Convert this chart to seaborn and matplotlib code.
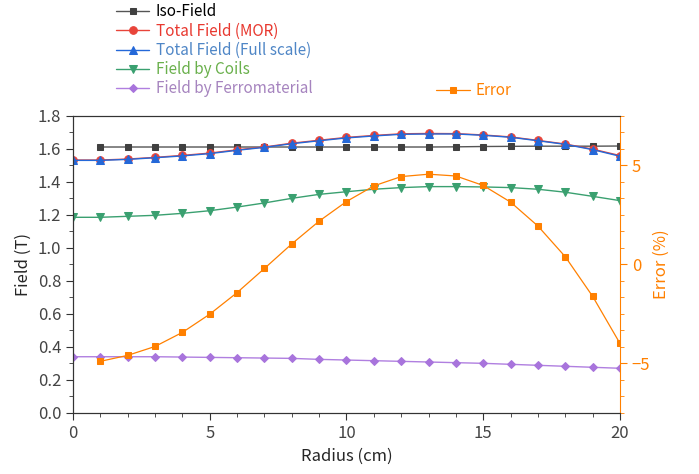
import numpy as np
import matplotlib
matplotlib.use('Agg')
import matplotlib.pyplot as plt
import seaborn as sns
from matplotlib.ticker import MultipleLocator

# data
radius = list(range(0, 21))
iso_r = list(range(1, 21))
iso_field = [1.612, 1.612, 1.612, 1.612, 1.612, 1.612, 1.612, 1.612, 1.612, 1.612,
             1.612, 1.612, 1.612, 1.613, 1.615, 1.616, 1.617, 1.617, 1.617, 1.618]
total_mor = [1.533, 1.533, 1.539, 1.549, 1.561, 1.575, 1.595, 1.612, 1.635, 1.653, 1.670,
             1.682, 1.692, 1.694, 1.693, 1.685, 1.673, 1.652, 1.630, 1.599, 1.560]
total_full = [1.531, 1.531, 1.537, 1.547, 1.558, 1.572, 1.592, 1.610, 1.632, 1.650, 1.667,
              1.679, 1.689, 1.691, 1.691, 1.683, 1.671, 1.650, 1.628, 1.596, 1.556]
coils = [1.186, 1.186, 1.192, 1.198, 1.210, 1.226, 1.248, 1.273, 1.301, 1.325, 1.341,
         1.356, 1.366, 1.372, 1.372, 1.370, 1.366, 1.356, 1.338, 1.313, 1.287]
ferro = [0.341, 0.341, 0.341, 0.341, 0.339, 0.337, 0.335, 0.333, 0.331, 0.325, 0.321,
         0.317, 0.313, 0.309, 0.305, 0.301, 0.295, 0.289, 0.283, 0.277, 0.271]
err_r = list(range(1, 21))
error = [-4.89, -4.59, -4.14, -3.43, -2.51, -1.42, -0.20, 1.04, 2.19, 3.18,
         3.97, 4.44, 4.56, 4.47, 3.99, 3.15, 1.94, 0.39, -1.61, -3.99]

sns.set_style('ticks')
plt.rcParams['font.family'] = ['Noto Sans CJK JP', 'DejaVu Sans']

fig = plt.figure(figsize=(6.99, 4.74), dpi=100)
ax = fig.add_axes([0.1044, 0.1287, 0.7826, 0.6266])
ax2 = ax.twinx()

series = [
    (iso_r, iso_field, 'Iso-Field', '#555555', '#404040', 's', 5, 'black'),
    (radius, total_mor, 'Total Field (MOR)', '#e8443a', '#e8443a', 'o', 5.5, '#e8382f'),
    (radius, total_full, 'Total Field (Full scale)', '#2468d8', '#2468d8', '^', 6, '#4f86c6'),
    (radius, coils, 'Field by Coils', '#3aa070', '#3aa070', 'v', 6, '#6ab04c'),
    (radius, ferro, 'Field by Ferromaterial', '#b07fe0', '#a874dc', 'D', 4.5, '#a684bf'),
]
for x, y, lab, lc, mc, mk, ms, tc in series:
    sns.lineplot(x=x, y=y, ax=ax, color=lc, marker=mk, markersize=ms,
                 markerfacecolor=mc, markeredgecolor=mc, linewidth=1.0, label=lab)

sns.lineplot(x=err_r, y=error, ax=ax2, color='#ff8000', marker='s', markersize=5,
             markeredgecolor='#ff8000', linewidth=0.9, label='Error')

ax.set_xlim(0, 20)
ax.set_ylim(0, 1.8)
ax2.set_ylim(-7.5, 7.5)
ax.xaxis.set_major_locator(MultipleLocator(5))
ax.xaxis.set_minor_locator(MultipleLocator(1))
ax.yaxis.set_major_locator(MultipleLocator(0.2))
ax.yaxis.set_minor_locator(MultipleLocator(0.1))
ax.yaxis.set_major_formatter(matplotlib.ticker.FormatStrFormatter('%.1f'))
ax2.yaxis.set_major_locator(MultipleLocator(5))
ax2.yaxis.set_minor_locator(MultipleLocator(5 / 6))

ax.set_xlabel('Radius (cm)', fontsize=12)
ax.set_ylabel('Field (T)', fontsize=12)
ax2.set_ylabel('Error (%)', fontsize=12, color='#ff8000', labelpad=2)

ax.tick_params(axis='both', which='major', direction='out', length=5, labelsize=12,
               colors='#333333', labelcolor='#444444')
ax.tick_params(axis='both', which='minor', direction='out', length=3, colors='#333333')
ax2.tick_params(axis='y', which='major', direction='out', length=5, labelsize=12,
                colors='#ff8000')
ax2.tick_params(axis='y', which='minor', direction='out', length=3, colors='#ff8000')
for s in ['left', 'bottom', 'top']:
    ax.spines[s].set_color('#333333')
    ax2.spines[s].set_color('#333333')
ax.spines['top'].set_visible(True)
ax2.spines['top'].set_visible(True)
ax.spines['right'].set_visible(False)
ax2.spines['right'].set_visible(True)
ax2.spines['right'].set_color('#ff8000')

leg = ax.legend(loc='upper left', bbox_to_anchor=(0.157, 1.006), bbox_transform=fig.transFigure,
                frameon=False, fontsize=11, handlelength=2.2, handletextpad=0.4,
                labelspacing=0.15, borderaxespad=0)
for t, s in zip(leg.get_texts(), series):
    t.set_color(s[7])
leg2 = ax2.legend(loc='upper left', bbox_to_anchor=(0.615, 0.839), bbox_transform=fig.transFigure,
                  frameon=False, fontsize=11, handlelength=2.2, handletextpad=0.4,
                  borderaxespad=0)
leg2.get_texts()[0].set_color('#ff8000')

fig.savefig('out.png', dpi=100)
